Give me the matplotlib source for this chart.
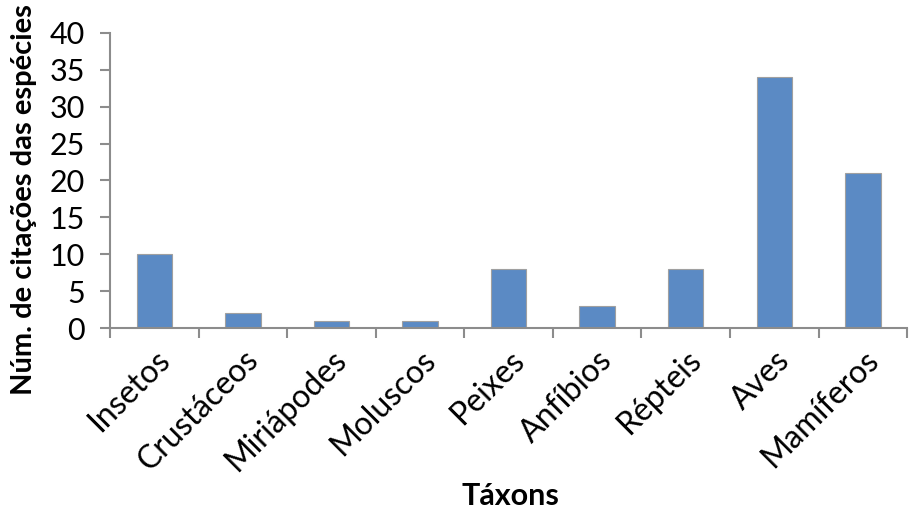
import matplotlib
matplotlib.use("Agg")
import matplotlib.pyplot as plt
import numpy as np

categories = ["Insetos", "Crustáceos", "Miriápodes", "Moluscos", "Peixes",
              "Anfíbios", "Répteis", "Aves", "Mamíferos"]
values = [10, 2, 1, 1, 8, 3, 8, 34, 21]
yticks = [0, 5, 10, 15, 20, 25, 30, 35, 40]

plt.rcParams['font.family'] = ['Lato', 'DejaVu Sans']

fig = plt.figure(figsize=(9.09, 5.12), dpi=100)
ax = fig.add_axes([0.121, 0.359, 0.877, 0.577])

x = np.arange(len(categories))
ax.bar(x, values, width=0.4, color="#5B8AC4", edgecolor="#A0A0A0", linewidth=0.8, zorder=2)

ax.set_xlim(-0.5, len(categories) - 0.5)
ax.set_ylim(0, 40)
ax.set_yticks(yticks)
ax.set_yticklabels([str(t) for t in yticks], fontsize=22)

# category boundaries carry the tick marks
ax.set_xticks(np.arange(len(categories) + 1) - 0.5)
ax.set_xticklabels([])
ax.set_xticks(x, minor=True)
ax.set_xticklabels(categories, minor=True, rotation=45, ha="right",
                   rotation_mode="anchor", fontsize=23)
ax.tick_params(axis="x", which="minor", length=0, pad=12)
ax.tick_params(axis="x", which="major", length=7, width=1.5, color="#8C8C8C")
ax.tick_params(axis="y", length=7, width=1.5, color="#8C8C8C", pad=11)

for s in ["top", "right"]:
    ax.spines[s].set_visible(False)
for s in ["left", "bottom"]:
    ax.spines[s].set_color("#8C8C8C")
    ax.spines[s].set_linewidth(1.5)

fig.text(0.026, 0.61, "Núm. de citações das espécies", fontsize=21, fontweight="bold",
         rotation=90, ha="center", va="center")
fig.text(0.561, 0.014, "Táxons", fontsize=22, fontweight="bold", ha="center", va="baseline")

fig.savefig("out.png", dpi=100)
